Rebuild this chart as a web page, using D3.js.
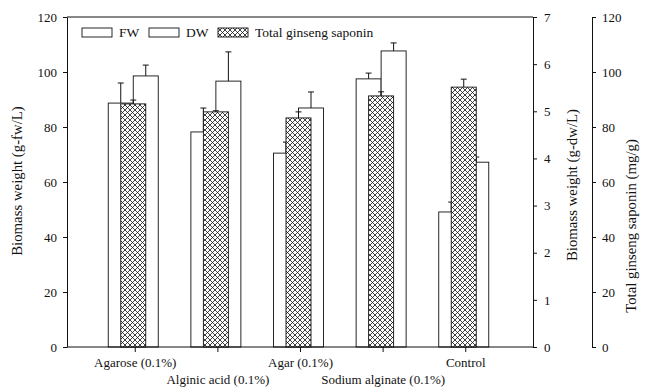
<html>
<head>
<script src="https://cdn.jsdelivr.net/npm/d3@7"></script>
<style>
  body { margin: 0; background: #fff; }
  text { font-family: "Liberation Serif", "Times New Roman", serif; fill: #111; }
</style>
</head>
<body>
<svg width="645" height="387"></svg>
<script>
// data
const categories = ["Agarose (0.1%)", "Alginic acid (0.1%)", "Agar (0.1%)", "Sodium alginate (0.1%)", "Control"];
const fw = [88.7, 78.2, 70.5, 97.5, 49.1];
const fwErr = [7.3, 8.7, 4.0, 2.1, 3.6];
const dw = [5.75, 5.64, 5.07, 6.28, 3.92];
const dwErr = [0.23, 0.62, 0.34, 0.17, 0.11];
const saponin = [88.4, 85.5, 83.3, 91.3, 94.5];
const saponinErr = [1.4, 0.4, 2.2, 1.5, 2.9];
const leftTicks = [0, 20, 40, 60, 80, 100, 120];
const dwTicks = [0, 1, 2, 3, 4, 5, 6, 7];

const svg = d3.select("svg");
const mLeft = 67, mRight = 533, mTop = 17, mBottom = 347;
const bw = 25; // bar width

const x = d3.scalePoint().domain(categories).range([mLeft, mRight]).padding(0.82);
const yFw = d3.scaleLinear().domain([0, 120]).range([mBottom, mTop]);
const yDw = d3.scaleLinear().domain([0, 7]).range([mBottom, mTop]);
const ySap = d3.scaleLinear().domain([0, 120]).range([mBottom, mTop]);

// cross hatch
const defs = svg.append("defs");
const pat = defs.append("pattern").attr("id", "hatch")
  .attr("patternUnits", "userSpaceOnUse").attr("width", 5).attr("height", 5);
pat.append("rect").attr("width", 5).attr("height", 5).attr("fill", "#fff");
pat.append("path").attr("d", "M0,0L5,5M0,5L5,0M-1,1L1,-1M4,6L6,4M-1,4L1,6M4,-1L6,1")
  .attr("stroke", "#111").attr("stroke-width", 0.8);

const cx = c => x(c) - 1.5;

function bars(vals, errs, y, dx, fill, cls) {
  const g = svg.append("g").attr("class", cls);
  vals.forEach((v, i) => {
    const c = cx(categories[i]) + dx;
    g.append("line").attr("x1", c).attr("x2", c)
      .attr("y1", y(v)).attr("y2", y(v + errs[i]))
      .attr("stroke", "#111").attr("stroke-width", 1);
    g.append("line").attr("x1", c - 3).attr("x2", c + 3)
      .attr("y1", y(v + errs[i])).attr("y2", y(v + errs[i]))
      .attr("stroke", "#111").attr("stroke-width", 1);
    g.append("rect").attr("x", c - bw / 2).attr("y", y(v))
      .attr("width", bw).attr("height", mBottom - y(v))
      .attr("fill", fill).attr("stroke", "#111").attr("stroke-width", 0.9);
  });
}
bars(fw, fwErr, yFw, -bw / 2, "#fff", "fw");
bars(dw, dwErr, yDw, bw / 2, "#fff", "dw");
bars(saponin, saponinErr, ySap, 0, "url(#hatch)", "sap");

// frame
svg.append("line").attr("x1", mLeft).attr("x2", mRight).attr("y1", mTop).attr("y2", mTop)
  .attr("stroke", "#111");

const axisStyle = g => {
  g.selectAll("path, line").attr("stroke", "#111");
  g.selectAll("text").style("font-size", "13px").style("font-family", "Liberation Serif");
};

svg.append("g").attr("transform", `translate(${mLeft},0)`)
  .call(d3.axisLeft(yFw).tickValues(leftTicks).tickSize(4).tickSizeOuter(0).tickPadding(6))
  .call(axisStyle);

svg.append("g").attr("transform", `translate(${mRight},0)`)
  .call(d3.axisRight(yDw).tickValues(dwTicks).tickFormat(d3.format("d"))
    .tickSize(4).tickSizeOuter(0).tickPadding(7))
  .call(axisStyle);

svg.append("g").attr("transform", "translate(592,0)")
  .call(d3.axisRight(ySap).tickValues(leftTicks).tickSize(4).tickSizeOuter(0).tickPadding(6))
  .call(axisStyle);

const xg = svg.append("g").attr("transform", `translate(0,${mBottom})`)
  .call(d3.axisBottom(x).tickSize(5).tickSizeOuter(0).tickPadding(7))
  .call(axisStyle);
xg.select(".domain").attr("d", `M${mLeft},0H${mRight}`);
xg.selectAll("text").style("font-size", "13px")
  .attr("dy", (d, i) => i % 2 ? "1.95em" : "0.6em");

// axis titles
const title = (tx, ty, s) => svg.append("text")
  .attr("transform", `translate(${tx},${ty}) rotate(-90)`)
  .attr("text-anchor", "middle").style("font-size", "14.8px").text(s);
title(22, 181, "Biomass weight (g-fw/L)");
title(577, 185, "Biomass weight (g-dw/L)");
title(636, 226, "Total ginseng saponin (mg/g)");

// legend
const legend = [
  { label: "FW", fill: "#fff", x: 82 },
  { label: "DW", fill: "#fff", x: 149 },
  { label: "Total ginseng saponin", fill: "url(#hatch)", x: 218 }
];
const lg = svg.append("g");
legend.forEach(d => {
  lg.append("rect").attr("x", d.x).attr("y", 28).attr("width", 30).attr("height", 9)
    .attr("fill", d.fill).attr("stroke", "#111").attr("stroke-width", 0.9);
  lg.append("text").attr("x", d.x + 37).attr("y", 37).style("font-size", "13.5px").text(d.label);
});
</script>
</body>
</html>
